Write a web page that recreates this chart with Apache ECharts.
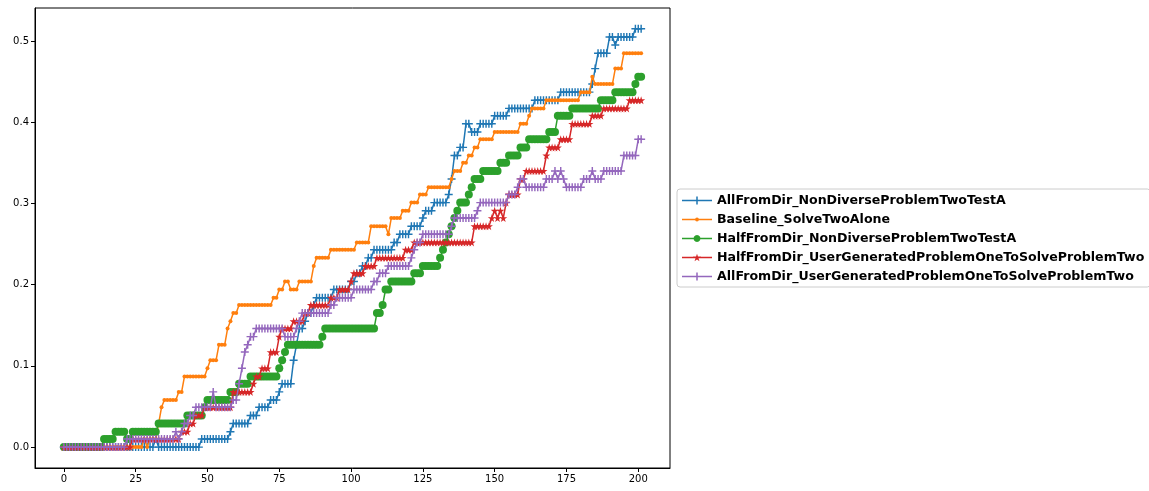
<!DOCTYPE html>
<html>
<head>
<meta charset="utf-8">
<script src="https://cdn.jsdelivr.net/npm/echarts@6/dist/echarts.min.js"></script>
<style>
html,body{margin:0;padding:0;background:#ffffff;}
#chart{width:1149px;height:491px;}
</style>
</head>
<body>
<div id="chart"></div>
<script>
const seriesNames = [
  'AllFromDir_NonDiverseProblemTwoTestA',
  'Baseline_SolveTwoAlone',
  'HalfFromDir_NonDiverseProblemTwoTestA',
  'HalfFromDir_UserGeneratedProblemOneToSolveProblemTwo',
  'AllFromDir_UserGeneratedProblemOneToSolveProblemTwo'
];
const xTicks = [0, 25, 50, 75, 100, 125, 150, 175, 200];
const xTickLabels = ['0', '25', '50', '75', '100', '125', '150', '175', '200'];
const yTicks = [0, 0.1, 0.2, 0.3, 0.4, 0.5];
const yTickLabels = ['0.0', '0.1', '0.2', '0.3', '0.4', '0.5'];

const allFromDirNonDiverse = [
0,0,0,0,0,0,0,0,0,0,
0,0,0,0,0,0,0,0,0,0,
0,0,0,0,0,0,0,0,0,0,
0,0,0.010,0,0,0,0,0,0,0,
0,0,0,0,0,0,0,0,0.010,0.010,
0.010,0.010,0.010,0.010,0.010,0.010,0.010,0.010,0.019,0.029,
0.029,0.029,0.029,0.029,0.029,0.039,0.039,0.039,0.049,0.049,
0.049,0.049,0.058,0.058,0.058,0.068,0.078,0.078,0.078,0.078,
0.107,0.126,0.146,0.146,0.155,0.165,0.165,0.175,0.184,0.184,
0.184,0.184,0.184,0.184,0.194,0.194,0.194,0.194,0.194,0.194,
0.204,0.204,0.214,0.214,0.223,0.223,0.233,0.233,0.243,0.243,
0.243,0.243,0.243,0.243,0.243,0.252,0.252,0.262,0.262,0.262,
0.262,0.272,0.272,0.272,0.272,0.282,0.291,0.291,0.291,0.301,
0.301,0.301,0.301,0.301,0.311,0.330,0.359,0.359,0.369,0.369,
0.398,0.398,0.388,0.388,0.388,0.398,0.398,0.398,0.398,0.398,
0.408,0.408,0.408,0.408,0.408,0.417,0.417,0.417,0.417,0.417,
0.417,0.417,0.417,0.417,0.427,0.427,0.427,0.427,0.427,0.427,
0.427,0.427,0.427,0.437,0.437,0.437,0.437,0.437,0.437,0.437,
0.437,0.437,0.437,0.437,0.447,0.466,0.485,0.485,0.485,0.485,
0.505,0.505,0.495,0.505,0.505,0.505,0.505,0.505,0.505,0.515,
0.515,0.515
];

const baselineSolveTwoAlone = [
0,0,0,0,0,0,0,0,0,0,
0,0,0,0,0,0,0,0,0,0,
0,0,0,0,0,0,0,0,0.010,0,
0.010,0.010,0.010,0.029,0.049,0.058,0.058,0.058,0.058,0.058,
0.068,0.068,0.087,0.087,0.087,0.087,0.087,0.087,0.087,0.087,
0.097,0.107,0.107,0.107,0.126,0.126,0.126,0.146,0.155,0.165,
0.165,0.175,0.175,0.175,0.175,0.175,0.175,0.175,0.175,0.175,
0.175,0.175,0.175,0.184,0.184,0.194,0.194,0.204,0.204,0.194,
0.194,0.194,0.204,0.204,0.204,0.204,0.204,0.223,0.233,0.233,
0.233,0.233,0.233,0.243,0.243,0.243,0.243,0.243,0.243,0.243,
0.243,0.243,0.252,0.252,0.252,0.252,0.252,0.272,0.272,0.272,
0.272,0.272,0.272,0.262,0.282,0.282,0.282,0.282,0.291,0.291,
0.291,0.301,0.301,0.301,0.311,0.311,0.311,0.320,0.320,0.320,
0.320,0.320,0.320,0.320,0.320,0.330,0.340,0.340,0.340,0.350,
0.350,0.359,0.359,0.369,0.369,0.379,0.379,0.379,0.379,0.379,
0.388,0.388,0.388,0.388,0.388,0.388,0.388,0.388,0.388,0.398,
0.398,0.398,0.408,0.417,0.417,0.417,0.417,0.417,0.427,0.427,
0.427,0.427,0.427,0.427,0.427,0.427,0.427,0.427,0.427,0.427,
0.437,0.437,0.437,0.437,0.456,0.447,0.447,0.447,0.447,0.447,
0.447,0.447,0.466,0.466,0.466,0.485,0.485,0.485,0.485,0.485,
0.485,0.485
];

const halfFromDirNonDiverse = [
0,0,0,0,0,0,0,0,0,0,
0,0,0,0,0.010,0.010,0.010,0.010,0.019,0.019,
0.019,0.019,0.010,0.010,0.019,0.019,0.019,0.019,0.019,0.019,
0.019,0.019,0.019,0.029,0.029,0.029,0.029,0.029,0.029,0.029,
0.029,0.029,0.029,0.039,0.039,0.039,0.039,0.039,0.039,0.049,
0.058,0.058,0.058,0.058,0.058,0.058,0.058,0.058,0.068,0.068,
0.068,0.078,0.078,0.078,0.078,0.087,0.087,0.087,0.087,0.087,
0.087,0.087,0.087,0.087,0.087,0.097,0.107,0.117,0.126,0.126,
0.126,0.126,0.126,0.126,0.126,0.126,0.126,0.126,0.126,0.126,
0.136,0.146,0.146,0.146,0.146,0.146,0.146,0.146,0.146,0.146,
0.146,0.146,0.146,0.146,0.146,0.146,0.146,0.146,0.146,0.165,
0.165,0.175,0.194,0.194,0.204,0.204,0.204,0.204,0.204,0.204,
0.204,0.204,0.214,0.214,0.214,0.223,0.223,0.223,0.223,0.223,
0.223,0.233,0.243,0.252,0.262,0.272,0.282,0.291,0.301,0.301,
0.301,0.311,0.320,0.330,0.330,0.330,0.340,0.340,0.340,0.340,
0.340,0.340,0.350,0.350,0.350,0.359,0.359,0.359,0.359,0.369,
0.369,0.369,0.379,0.379,0.379,0.379,0.379,0.379,0.379,0.388,
0.388,0.388,0.408,0.408,0.408,0.408,0.408,0.417,0.417,0.417,
0.417,0.417,0.417,0.417,0.417,0.417,0.417,0.427,0.427,0.427,
0.427,0.427,0.437,0.437,0.437,0.437,0.437,0.437,0.437,0.447,
0.456,0.456
];

const halfFromDirUserGenerated = [
0,0,0,0,0,0,0,0,0,0,
0,0,0,0,0,0,0,0,0,0,
0,0,0,0,0.010,0.010,0.010,0.010,0.010,0.010,
0.010,0.010,0.010,0.010,0.010,0.010,0.010,0.010,0.010,0.010,
0.010,0.019,0.019,0.019,0.029,0.029,0.039,0.039,0.039,0.049,
0.049,0.049,0.049,0.049,0.049,0.049,0.049,0.049,0.049,0.068,
0.068,0.068,0.068,0.068,0.068,0.068,0.078,0.087,0.087,0.097,
0.097,0.097,0.117,0.117,0.117,0.136,0.146,0.146,0.146,0.146,
0.155,0.155,0.155,0.155,0.165,0.165,0.175,0.175,0.175,0.175,
0.175,0.175,0.175,0.184,0.184,0.184,0.194,0.194,0.194,0.194,
0.204,0.214,0.214,0.214,0.214,0.223,0.223,0.223,0.223,0.233,
0.233,0.233,0.233,0.233,0.233,0.233,0.233,0.233,0.233,0.243,
0.243,0.243,0.252,0.252,0.252,0.252,0.252,0.252,0.252,0.252,
0.252,0.252,0.252,0.252,0.252,0.252,0.252,0.252,0.252,0.252,
0.252,0.252,0.252,0.272,0.272,0.272,0.272,0.272,0.272,0.282,
0.291,0.282,0.291,0.282,0.301,0.311,0.311,0.311,0.311,0.330,
0.330,0.340,0.340,0.340,0.340,0.340,0.340,0.340,0.359,0.369,
0.369,0.369,0.369,0.379,0.379,0.379,0.379,0.398,0.398,0.398,
0.398,0.398,0.398,0.398,0.408,0.408,0.408,0.408,0.417,0.417,
0.417,0.417,0.417,0.417,0.417,0.417,0.417,0.427,0.427,0.427,
0.427,0.427
];

const allFromDirUserGenerated = [
0,0,0,0,0,0,0,0,0,0,
0,0,0,0,0,0,0,0,0,0,
0,0,0.010,0.010,0.010,0.010,0.010,0.010,0.010,0.010,
0.010,0.010,0.010,0.010,0.010,0.010,0.010,0.010,0.010,0.019,
0.010,0.019,0.029,0.029,0.039,0.039,0.049,0.049,0.049,0.049,
0.049,0.049,0.068,0.049,0.049,0.049,0.049,0.049,0.049,0.058,
0.058,0.078,0.097,0.117,0.126,0.136,0.136,0.146,0.146,0.146,
0.146,0.146,0.146,0.146,0.146,0.146,0.146,0.136,0.136,0.136,
0.136,0.146,0.155,0.165,0.165,0.165,0.165,0.165,0.165,0.165,
0.165,0.165,0.165,0.175,0.175,0.184,0.184,0.184,0.184,0.184,
0.184,0.194,0.194,0.194,0.194,0.194,0.194,0.194,0.204,0.204,
0.214,0.214,0.214,0.223,0.223,0.223,0.223,0.223,0.223,0.223,
0.223,0.233,0.243,0.252,0.252,0.262,0.262,0.262,0.262,0.262,
0.262,0.262,0.262,0.262,0.262,0.272,0.282,0.282,0.282,0.282,
0.282,0.282,0.282,0.282,0.291,0.301,0.301,0.301,0.301,0.301,
0.301,0.301,0.301,0.301,0.301,0.311,0.311,0.311,0.320,0.330,
0.330,0.320,0.320,0.320,0.320,0.320,0.320,0.320,0.330,0.330,
0.330,0.340,0.330,0.340,0.330,0.320,0.320,0.320,0.320,0.320,
0.320,0.330,0.330,0.330,0.340,0.330,0.330,0.330,0.340,0.340,
0.340,0.340,0.340,0.340,0.340,0.359,0.359,0.359,0.359,0.359,
0.379,0.379
];

const seriesValues = [
  allFromDirNonDiverse,
  baselineSolveTwoAlone,
  halfFromDirNonDiverse,
  halfFromDirUserGenerated,
  allFromDirUserGenerated
];
const colors = ['#1f77b4', '#ff7f0e', '#2ca02c', '#d62728', '#9467bd'];
const plusPath = 'path://M0,4.1H10V5.9H0Z M4.1,0H5.9V10H4.1Z';
const starPath = 'path://M50,0 L61,35 L98,35 L68,57 L79,91 L50,70 L21,91 L32,57 L2,35 L39,35 Z';
const symbols = [plusPath, 'circle', 'circle', starPath, plusPath];
const symbolSizes = [8, 4, 8, 8, 8];

// legend icons: a 30px line sample with a small marker in its middle
const legLine = 'M0,5.25H30V6.75H0Z';
const legPlus = 'path://' + legLine + ' M14.25,2H15.75V10H14.25Z';
const legDot = 'path://' + legLine + ' M17,6L16.41,7.41L15,8L13.59,7.41L13,6L13.59,4.59L15,4L16.41,4.59Z';
const legCircle = 'path://' + legLine + ' M18.5,6L18.03,7.75L16.75,9.03L15,9.5L13.25,9.03L11.97,7.75L11.5,6L11.97,4.25L13.25,2.97L15,2.5L16.75,2.97L18.03,4.25Z';
const legStar = 'path://' + legLine + ' M15,2.13L15.94,5.11L19.08,5.11L16.53,6.98L17.47,9.87L15,8.08L12.53,9.87L13.47,6.98L10.92,5.11L14.07,5.11Z';
const legendIcons = [legPlus, legDot, legCircle, legStar, legPlus];

const font = 'DejaVu Sans';
const chart = echarts.init(document.getElementById('chart'), null, {renderer: 'canvas'});

const series = seriesValues.map((vals, si) => ({
  name: seriesNames[si],
  type: 'line',
  data: vals.map((v, i) => [i, v]),
  symbol: symbols[si],
  symbolSize: symbolSizes[si],
  showSymbol: true,
  showAllSymbol: true,
  color: colors[si],
  lineStyle: {width: 1.5, color: colors[si]},
  itemStyle: {color: colors[si], borderWidth: 0},
  emphasis: {disabled: true},
  z: 2 + si
}));

function labelFor(ticks, labels, v) {
  const idx = ticks.findIndex(t => Math.abs(t - v) < 1e-9);
  return idx >= 0 ? labels[idx] : '';
}

chart.setOption({
  animation: false,
  backgroundColor: '#ffffff',
  textStyle: {fontFamily: font},
  grid: {
    left: 35, right: 479, top: 8, bottom: 23,
    show: true, borderColor: '#000000', borderWidth: 1, backgroundColor: 'transparent'
  },
  xAxis: {
    type: 'value',
    min: -10.05, max: 211.05,
    splitLine: {show: false},
    axisLine: {show: true, onZero: false, lineStyle: {color: '#000000', width: 1}},
    axisTick: {show: true, inside: false, length: 4, customValues: xTicks, lineStyle: {color: '#000000', width: 1}},
    axisLabel: {
      show: true, customValues: xTicks, margin: 6,
      color: '#000000', fontSize: 10, fontFamily: font,
      formatter: v => labelFor(xTicks, xTickLabels, v)
    }
  },
  yAxis: {
    type: 'value',
    min: -0.0257, max: 0.5406,
    splitLine: {show: false},
    axisLine: {show: true, onZero: false, lineStyle: {color: '#000000', width: 1}},
    axisTick: {show: true, inside: false, length: 4, customValues: yTicks, lineStyle: {color: '#000000', width: 1}},
    axisLabel: {
      show: true, customValues: yTicks, margin: 6,
      color: '#000000', fontSize: 10, fontFamily: font,
      formatter: v => labelFor(yTicks, yTickLabels, v)
    }
  },
  legend: {
    show: true,
    orient: 'vertical',
    left: 677, top: 189,
    data: seriesNames.map((n, i) => ({name: n, icon: legendIcons[i], itemStyle: {color: colors[i], borderWidth: 0}})),
    itemWidth: 30, itemHeight: 12, itemGap: 6,
    padding: [5, 6, 4, 5],
    backgroundColor: '#ffffff',
    borderColor: '#cccccc', borderWidth: 1, borderRadius: 3,
    itemStyle: {borderWidth: 0},
    textStyle: {fontFamily: font, fontSize: 12.6, fontWeight: 'bold', color: '#000000', lineHeight: 13},
    selectedMode: false
  },
  series: series
});
</script>
</body>
</html>
